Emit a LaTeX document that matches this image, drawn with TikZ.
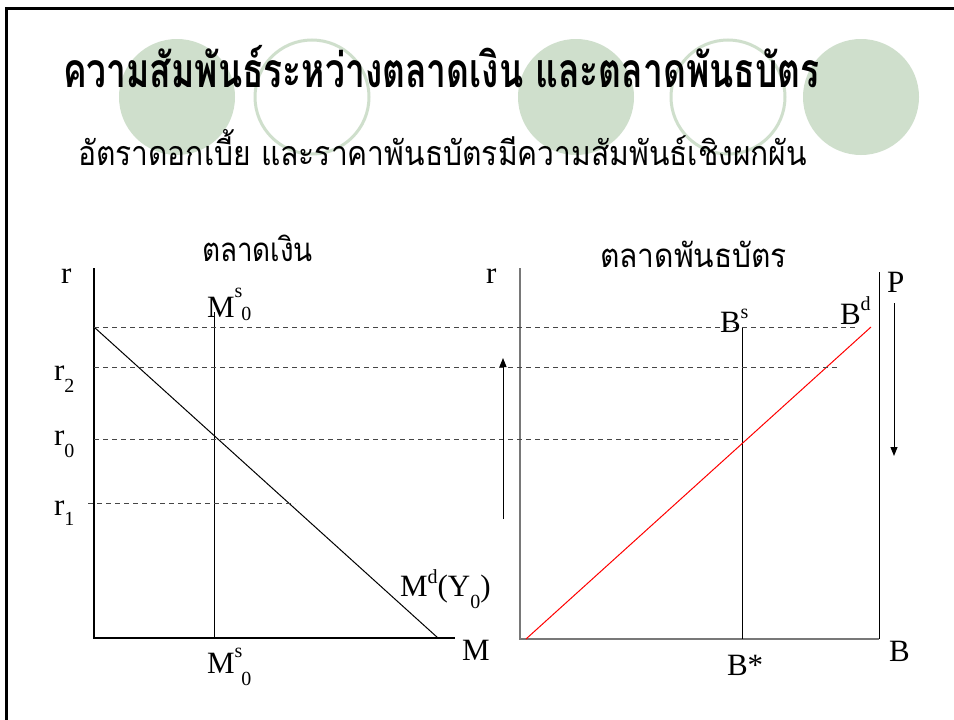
\documentclass[tikz,border=0pt]{standalone}
\usepackage{fontspec}
\usepackage{graphicx}
\setmainfont{Liberation Serif}
\newfontfamily\thaifont[Script=Thai]{Loma}
\usetikzlibrary{arrows.meta}
\definecolor{sage}{RGB}{207,223,204}
\definecolor{dashgray}{RGB}{70,70,70}
\definecolor{axisgray}{RGB}{120,120,120}
\newcommand{\smtxt}[2]{\raisebox{#1}{\fontsize{20}{20}\selectfont #2}}
\newcommand{\fitw}[2]{\resizebox{#1}{\height}{#2}}
\tikzset{
  lbl/.style={inner sep=0pt, outer sep=0pt, anchor=base west, font=\fontsize{31}{31}\selectfont},
  thai/.style={inner sep=0pt, outer sep=0pt, anchor=base west},
  filledcirc/.style={fill=sage, draw=none},
  ringcirc/.style={draw=sage, line width=3pt},
  axisline/.style={line width=1.2pt, black},
  axisgrayline/.style={line width=1.5pt, axisgray},
  guide/.style={dashgray, line width=0.9pt, dash pattern=on 5pt off 4pt},
  curveline/.style={line width=1pt, black},
  redline/.style={line width=1pt, red},
  arrowline/.style={line width=1pt, black, -{Triangle[length=9pt,width=7pt]}},
  frameline/.style={line width=3pt, black}
}
\begin{document}
\begin{tikzpicture}[x=1pt,y=-1pt]
\useasboundingbox (0,0) rectangle (954,720);
\fill[white] (0,0) rectangle (954,720);
% frame
\coordinate (ftl) at (6.5,8);
\coordinate (ftr) at (954,8);
\coordinate (fbl) at (6.5,720);
\draw[frameline] (ftr) -- (ftl) -- (fbl);
% decorative circles
\fill[filledcirc] (177,97) circle (58);
\draw[ringcirc] (312,97) circle (57);
\fill[filledcirc] (576,97) circle (58);
\draw[ringcirc] (728,97) circle (57);
\fill[filledcirc] (861,97) circle (58);
% title and subtitle
\node[thai] (title) at (63,87) {\fitw{757pt}{\thaifont\bfseries\fontsize{48}{48}\selectfont ความสัมพันธ์ระหว่างตลาดเงิน และตลาดพันธบัตร}};
\node[thai] (subtitle) at (78,165) {\fitw{729pt}{\thaifont\fontsize{34}{34}\selectfont อัตราดอกเบี้ย และราคาพันธบัตรมีความสัมพันธ์เชิงผกผัน}};
% chart headings
\node[thai] (moneyhead) at (202,261) {\fitw{111pt}{\thaifont\fontsize{33}{33}\selectfont ตลาดเงิน}};
\node[thai] (bondhead) at (600,267) {\fitw{187pt}{\thaifont\fontsize{33}{33}\selectfont ตลาดพันธบัตร}};
% ---------- left chart (money market)
\coordinate (Ltop) at (94,268);
\coordinate (Lorig) at (94,638);
\coordinate (Lxend) at (455,638);
\coordinate (MsTop) at (214,312);
\coordinate (MsBot) at (214,638);
\coordinate (MdA) at (94,327);
\coordinate (MdB) at (438,638);
\draw[axisline] (Ltop) -- (Lorig) -- (Lxend);
\draw[curveline] (MsTop) -- (MsBot);
\draw[curveline] (MdA) -- (MdB);
% ---------- right chart (bond market)
\coordinate (Rtop) at (520,268);
\coordinate (Rorig) at (520,639);
\coordinate (Rxend) at (879,639);
\coordinate (RVtop) at (879,272);
\coordinate (BsTop) at (742,327);
\coordinate (BsBot) at (742,639);
\coordinate (BdA) at (526,639);
\coordinate (BdB) at (871,327);
\draw[axisgrayline] (Rtop) -- (Rorig) -- (Rxend);
\draw[curveline] (RVtop) -- (Rxend);
\draw[curveline] (BsTop) -- (BsBot);
\draw[redline] (BdA) -- (BdB);
% dashed guide lines
\coordinate (g1a) at (94,327);  \coordinate (g1b) at (855,327);
\coordinate (g2a) at (94,367);  \coordinate (g2b) at (839,367);
\coordinate (g3a) at (94,439);  \coordinate (g3b) at (742,439);
\coordinate (g4a) at (88,503);  \coordinate (g4b) at (295,503);
\draw[guide] (g1a) -- (g1b);
\draw[guide] (g2a) -- (g2b);
\draw[guide] (g3a) -- (g3b);
\draw[guide] (g4a) -- (g4b);
% arrows
\coordinate (upA) at (503,519);
\coordinate (upB) at (503,358);
\coordinate (dnA) at (894,303);
\coordinate (dnB) at (894,456);
\draw[arrowline] (upA) -- (upB);
\draw[arrowline] (dnA) -- (dnB);
% ---------- labels
\node[lbl] (rL) at (61,283) {r};
\node[lbl] (r2) at (54,380) {r\smtxt{-12pt}{2}};
\node[lbl] (r0) at (54,445) {r\smtxt{-12pt}{0}};
\node[lbl] (r1) at (54,515) {r\smtxt{-10pt}{1}};
\node[lbl] (rR) at (486,283) {r};
\node[lbl] (Ms0top) at (207,317) {M\smtxt{20pt}{s}\hspace{-1pt}\smtxt{-3pt}{0}};
\node[lbl] (Ms0bot) at (207,673) {M\smtxt{16pt}{s}\hspace{-1pt}\smtxt{-12pt}{0}};
\node[lbl] (Md) at (400,596) {M\smtxt{13pt}{d}(Y\smtxt{-12pt}{0})};
\node[lbl] (Mlab) at (462,660) {M};
\node[lbl] (Blab) at (889,661) {B};
\node[lbl] (Bstar) at (727,675) {B*};
\node[lbl] (Plab) at (887,292) {P};
\node[lbl] (Bs) at (720,332) {B\smtxt{14pt}{s}};
\node[lbl] (Bd) at (840,324) {B\smtxt{14pt}{d}};
\end{tikzpicture}
\end{document}
